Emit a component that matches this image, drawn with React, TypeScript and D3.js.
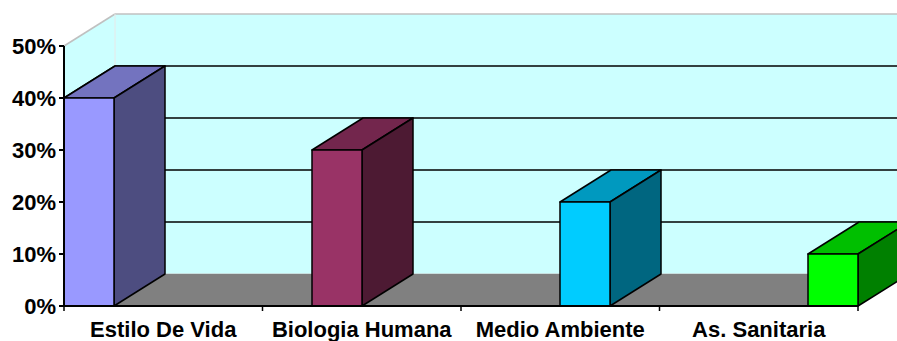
import React from "react";
import * as d3 from "d3";

const categories = ["Estilo De Vida", "Biologia Humana", "Medio Ambiente", "As. Sanitaria"];
const values = [0.4, 0.3, 0.2, 0.1];
const frontColors = ["#9999FF", "#993366", "#00CCFF", "#00FF00"];
const yTicks = [0, 0.1, 0.2, 0.3, 0.4, 0.5];

const W = 897;
const H = 341;

function shade(c: string, f: number) {
  const r = d3.rgb(c);
  return d3.rgb(Math.round(r.r * f), Math.round(r.g * f), Math.round(r.b * f)).formatHex();
}

export default function App() {
  const left = 64;
  const right = 858;
  const dx = 51;
  const dy = -32;
  const y = d3.scaleLinear().domain([0, 0.5]).range([306, 46]);
  const xBand = d3.scaleBand<string>().domain(categories).range([left, right]).padding(0);
  const barW = 50;
  const xBar = d3.scalePoint<string>().domain(categories).range([left, right - barW]);

  const y0 = y(0);
  const yTop = y(0.5);
  const pts = (arr: [number, number][]) => arr.map((p) => p.join(",")).join(" ");
  const font = "'Liberation Sans', Arial, sans-serif";

  return (
    <svg width={W} height={H} style={{ position: "absolute", left: 0, top: 0, background: "#fff" }}>
      {/* back wall */}
      <rect x={left + dx} y={yTop + dy} width={W} height={y0 - yTop} fill="#CCFFFF" />
      {/* side wall */}
      <polygon
        points={pts([[left, yTop], [left + dx, yTop + dy], [left + dx, y0 + dy], [left, y0]])}
        fill="#CCFFFF"
      />
      {/* wall edges */}
      <line x1={left} y1={yTop} x2={left + dx} y2={yTop + dy} stroke="#C0C0C0" strokeWidth={1.5} />
      <line x1={left + dx} y1={yTop + dy} x2={W} y2={yTop + dy} stroke="#C0C0C0" strokeWidth={1.5} />
      <line x1={left + dx} y1={yTop + dy} x2={left + dx} y2={y0 + dy} stroke="#E8E8E8" strokeWidth={1} />
      {/* gridlines */}
      {yTicks
        .filter((t) => t > 0 && t < 0.5)
        .map((t) => (
          <g key={t}>
            <line x1={left} y1={y(t)} x2={left + dx} y2={y(t) + dy} stroke="#000" strokeWidth={1.5} />
            <line x1={left + dx} y1={y(t) + dy} x2={W} y2={y(t) + dy} stroke="#000" strokeWidth={1.5} />
          </g>
        ))}
      {/* floor */}
      <polygon
        points={pts([[left, y0], [right, y0], [right + dx, y0 + dy], [left + dx, y0 + dy]])}
        fill="#808080"
      />
      <line x1={left + dx} y1={y0 + dy - 0.5} x2={W} y2={y0 + dy - 0.5} stroke="#C8E0E0" strokeWidth={1} />
      {/* bars */}
      {categories.map((c, i) => {
        const x0 = xBar(c)!;
        const x1 = x0 + barW;
        const yt = y(values[i]);
        const col = frontColors[i];
        return (
          <g key={c} stroke="#000" strokeWidth={1.5} strokeLinejoin="round">
            <polygon
              points={pts([[x0, yt], [x1, yt], [x1 + dx, yt + dy], [x0 + dx, yt + dy]])}
              fill={shade(col, 0.75)}
            />
            <polygon
              points={pts([[x1, yt], [x1 + dx, yt + dy], [x1 + dx, y0 + dy], [x1, y0]])}
              fill={shade(col, 0.5)}
            />
            <rect x={x0} y={yt} width={barW} height={y0 - yt} fill={col} />
          </g>
        );
      })}
      {/* y axis */}
      <line x1={left} y1={yTop} x2={left} y2={y0} stroke="#000" strokeWidth={2} />
      {yTicks.map((t) => (
        <g key={t}>
          <line x1={left - 5} y1={y(t)} x2={left} y2={y(t)} stroke="#000" strokeWidth={2} />
          <text
            x={left - 8}
            y={y(t)}
            dy="0.36em"
            textAnchor="end"
            fontFamily={font}
            fontWeight="bold"
            fontSize={22}
          >
            {d3.format(".0%")(t)}
          </text>
        </g>
      ))}
      {/* x axis */}
      <line x1={left} y1={y0} x2={right} y2={y0} stroke="#000" strokeWidth={2} />
      {categories.map((c) => (
        <line
          key={"t" + c}
          x1={xBand(c)! + xBand.bandwidth()}
          y1={y0}
          x2={xBand(c)! + xBand.bandwidth()}
          y2={y0 + 5}
          stroke="#000"
          strokeWidth={1.5}
        />
      ))}
      <line x1={left} y1={y0} x2={left} y2={y0 + 5} stroke="#000" strokeWidth={1.5} />
      {categories.map((c) => (
        <text
          key={"l" + c}
          x={xBand(c)! + xBand.bandwidth() / 2}
          y={337}
          textAnchor="middle"
          fontFamily={font}
          fontWeight="bold"
          fontSize={22}
        >
          {c}
        </text>
      ))}
    </svg>
  );
}
